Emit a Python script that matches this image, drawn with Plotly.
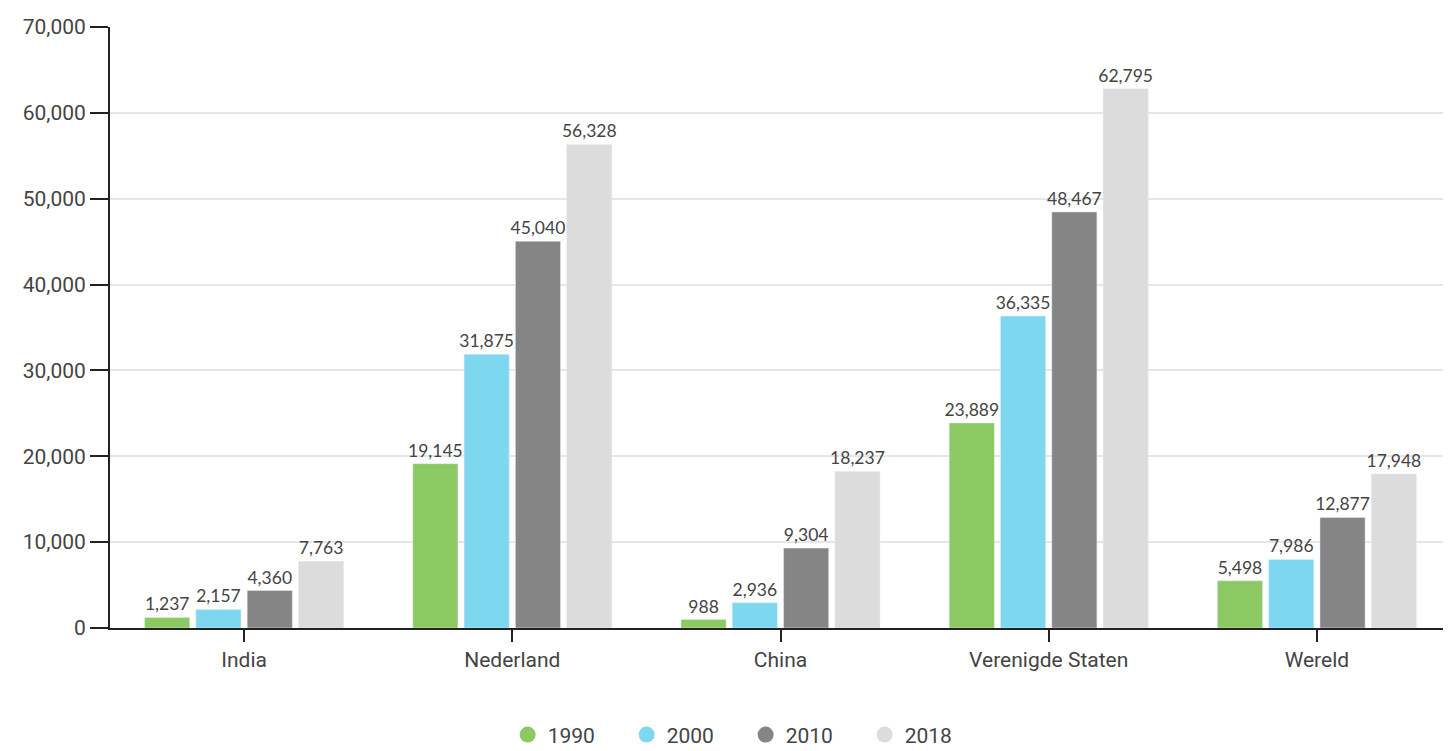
import plotly.graph_objects as go

categories = ["India", "Nederland", "China", "Verenigde Staten", "Wereld"]
years = ["1990", "2000", "2010", "2018"]
v1990 = [1237, 19145, 988, 23889, 5498]
v2000 = [2157, 31875, 2936, 36335, 7986]
v2010 = [4360, 45040, 9304, 48467, 12877]
v2018 = [7763, 56328, 18237, 62795, 17948]
series = [v1990, v2000, v2010, v2018]
colors = ["#8cc963", "#7dd8ef", "#858585", "#dcdcdc"]
yticks = [0, 10000, 20000, 30000, 40000, 50000, 60000, 70000]

axis_font = dict(family="Roboto", size=21, color="#444")

fig = go.Figure()
for name, vals, col in zip(years, series, colors):
    fig.add_trace(go.Bar(
        x=categories, y=vals, name=name, marker_color=col, showlegend=False,
        text=[f"{v:,}" for v in vals], textposition="outside", cliponaxis=False,
        constraintext="none",
        textfont=dict(family="Lato", size=17.5, color="#444"),
    ))
for name, col in zip(years, colors):
    fig.add_trace(go.Scatter(
        x=[None], y=[None], mode="markers", name=name,
        marker=dict(symbol="circle", size=22, color=col),
    ))

fig.update_layout(
    width=1443, height=743,
    margin=dict(l=102, r=0, t=19, b=123, autoexpand=False),
    plot_bgcolor="white", paper_bgcolor="white",
    barmode="group", bargap=0.235, bargroupgap=0.12,
    font=dict(family="Roboto", color="#444"),
    legend=dict(orientation="h", x=0.474, xanchor="center", y=-0.212, yanchor="bottom",
                font=axis_font,
                itemsizing="trace", itemwidth=30, traceorder="normal",
                entrywidth=74, entrywidthmode="pixels"),
)
fig.update_xaxes(
    showline=True, linecolor="#222", linewidth=2,
    ticks="outside", ticklen=12, tickwidth=2, tickcolor="#222",
    tickfont=axis_font,
    range=[-0.5, 4.5],
)
fig.update_yaxes(
    range=[0, 70000], tickvals=yticks, tickformat=",",
    showline=True, linecolor="#222", linewidth=2,
    ticks="outside", ticklen=18, tickwidth=2, tickcolor="#222",
    tickfont=axis_font,
    showgrid=True, gridcolor="#e6e6e6", gridwidth=2, zeroline=False,
)
fig.write_html("out.html")
